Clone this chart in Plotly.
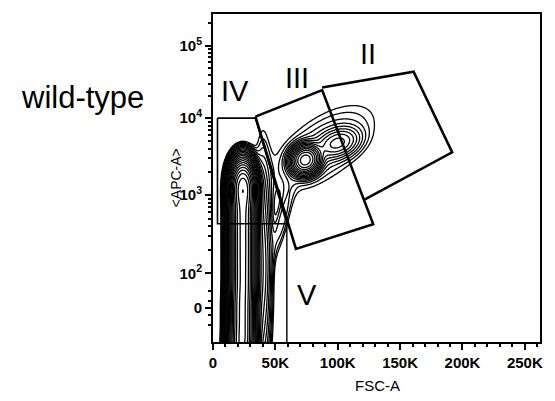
import numpy as np
import plotly.graph_objects as go

# ---------------- data ----------------
# density components: FSC centre (K), APC centre (value), FSC sd (K), APC sd (display units), amplitude, correlation
col_apc = [-114, -70, -27, 16, 59, 103, 160, 248, 385, 596, 925, 1300, 1750]
col_fsc = [23, 23.5, 23.5, 23.5, 24, 24, 24, 24, 24, 24, 24, 24, 24]
col_amp = [7, 6, 6, 6, 6, 6, 6, 6, 6, 6, 6, 7, 3]

comp_fsc = col_fsc + [40, 74, 100, 88, 55]
comp_apc = col_apc + [120, 2860, 4750, 4100, 445]
comp_sx = [4.6] * len(col_fsc) + [4, 5.5, 9, 27, 6]
comp_sy = [10] * len(col_fsc) + [60, 7, 8, 28, 25]
comp_w = col_amp + [0.08, 1.0, 0.1, 0.02, 0.015]
comp_rho = [0] * len(col_fsc) + [0, 0.1, 0.3, 0.6, 0.8]

# gates (FSC, APC)
gate_III_fsc = [34000, 87500, 128400, 66500, 34000]
gate_III_apc = [10500, 24500, 425, 205, 10500]
gate_II_fsc = [87500, 160800, 191700, 121800]
gate_II_apc = [26600, 44300, 3600, 880]
gate_IV_fsc = [3600, 34000, 59200, 3600, 3600]
gate_IV_apc = [10000, 10000, 430, 430, 10000]
gate_V_fsc = [59200, 59200]
gate_V_apc = [430, -100]

gate_labels = ["IV", "III", "II", "V"]
label_fsc = [17500, 67100, 124500, 75000]
label_apc = [24200, 35600, 78300, 38]

xtick_vals = [0, 50000, 100000, 150000, 200000, 250000]
xtick_text = ["0", "50K", "100K", "150K", "200K", "250K"]
ytick_vals = [0, 100, 1000, 10000, 100000]
ytick_text = ["0", "10<sup>2</sup>", "10<sup>3</sup>", "10<sup>4</sup>", "10<sup>5</sup>"]

# ---------------- biexponential-like display scale ----------------
LOG_ANCH = [2, 3, 4, 5, np.log10(262144)]
POS_ANCH = [69.0, 147.7, 225.0, 297.4, 329.7]


def T(v):
    v = np.asarray(v, dtype=float)
    lin = 34.4 + v * 0.346
    lg = np.interp(np.log10(np.maximum(v, 100)), LOG_ANCH, POS_ANCH)
    return np.where(v >= 100, lg, lin)


# ---------------- density grid ----------------
xs = np.linspace(0, 262144, 450)
ys = np.linspace(0, 329.7, 450)
X, Y = np.meshgrid(xs / 1000.0, ys)
Z = np.zeros_like(X)
for f, a, sx, sy, w, r in zip(comp_fsc, comp_apc, comp_sx, comp_sy, comp_w, comp_rho):
    dx = (X - f) / sx
    dy = (Y - float(T(a))) / sy
    q = (dx * dx - 2 * r * dx * dy + dy * dy) / (1 - r * r)
    Z += w * np.exp(-0.5 * q)
LZ = np.log10(Z + 1e-12)

FONT = "Liberation Sans, Arial"

fig = go.Figure()
fig.add_trace(go.Contour(
    x=xs, y=ys, z=LZ,
    contours=dict(coloring="lines", start=-2.2, end=3.0, size=0.15),
    line=dict(color="black", width=1.3),
    colorscale=[[0, "black"], [1, "black"]],
    showscale=False, hoverinfo="skip",
))

def gate(xv, yv, w):
    fig.add_trace(go.Scatter(x=xv, y=T(yv), mode="lines",
                             line=dict(color="black", width=w),
                             hoverinfo="skip", showlegend=False))

gate(gate_IV_fsc, gate_IV_apc, 1.6)
gate(gate_V_fsc, gate_V_apc, 1.4)
gate(gate_III_fsc, gate_III_apc, 2.6)
gate(gate_II_fsc, gate_II_apc, 2.6)

for t, fx, ay in zip(gate_labels, label_fsc, label_apc):
    fig.add_annotation(x=fx, y=float(T(ay)), text=t, showarrow=False,
                       font=dict(family=FONT, size=29, color="black"))

minor_y = []
for dec in [100, 1000, 10000]:
    minor_y += [k * dec for k in range(2, 10)]
minor_y += [200000, -50, 50, 20, -20]

fig.update_xaxes(range=[0, 262144], tickvals=xtick_vals, ticktext=xtick_text,
                 ticks="outside", ticklen=6, tickwidth=2, tickcolor="black",
                 showline=True, linewidth=2, linecolor="black", mirror=True,
                 showgrid=False, zeroline=False,
                 tickfont=dict(family=FONT, size=15, color="black", weight="bold"),
                 minor=dict(dtick=10000, ticks="outside", ticklen=3, tickwidth=1.5, tickcolor="black", showgrid=False))
fig.update_yaxes(range=[0, 329.7], tickvals=[float(T(v)) for v in ytick_vals], ticktext=ytick_text,
                 ticks="outside", ticklen=6, tickwidth=2, tickcolor="black",
                 showline=True, linewidth=2, linecolor="black", mirror=True,
                 showgrid=False, zeroline=False,
                 tickfont=dict(family=FONT, size=15, color="black", weight="bold"),
                 minor=dict(tickvals=[float(T(v)) for v in minor_y], ticks="outside", ticklen=3,
                            tickwidth=1.5, tickcolor="black", showgrid=False))

fig.add_annotation(xref="paper", yref="paper", x=0.503, y=-0.132, text="FSC-A",
                   showarrow=False, xanchor="center", yanchor="middle",
                   font=dict(family=FONT, size=15, color="black"))
fig.add_annotation(xref="paper", yref="paper", x=-0.112, y=0.5, text="&lt;APC-A&gt;",
                   showarrow=False, xanchor="center", yanchor="middle", textangle=-90,
                   font=dict(family=FONT, size=14, color="black"))
fig.add_annotation(xref="paper", yref="paper", x=-0.398, y=0.745, text="wild-type",
                   showarrow=False, xanchor="center", yanchor="middle",
                   font=dict(family=FONT, size=31, color="black"))

fig.update_layout(width=555, height=401, margin=dict(l=213, r=12, t=12, b=59),
                  paper_bgcolor="white", plot_bgcolor="white", showlegend=False)
fig.write_html("out.html")
